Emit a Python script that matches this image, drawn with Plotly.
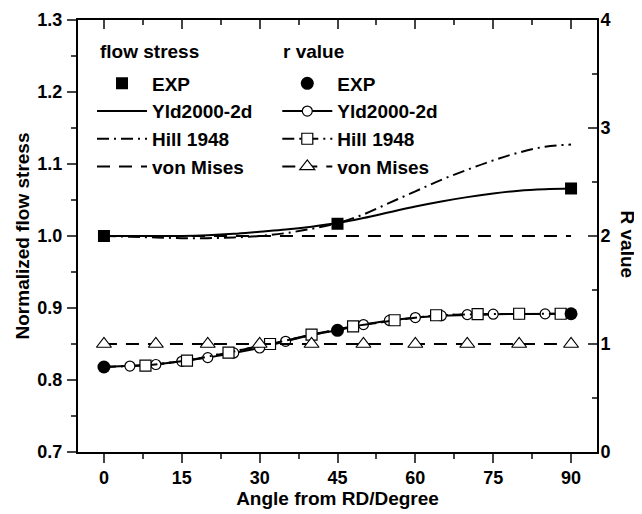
import plotly.graph_objects as go

# ---------------- data ----------------
angle_curve = [0, 5, 10, 15, 20, 25, 30, 35, 40, 45, 50, 55, 60, 65, 70, 75, 80, 85, 90]
fs_yld = [1.000, 1.000, 1.000, 1.000, 1.001, 1.003, 1.006, 1.009, 1.013, 1.018, 1.025, 1.033,
          1.041, 1.048, 1.054, 1.059, 1.063, 1.065, 1.066]
fs_hill = [1.000, 0.999, 0.998, 0.997, 0.997, 0.998, 1.000, 1.004, 1.010, 1.018, 1.030, 1.046,
           1.062, 1.078, 1.092, 1.105, 1.116, 1.124, 1.127]
fs_vm = [1.0] * len(angle_curve)

angle_exp = [0, 45, 90]
fs_exp = [1.000, 1.017, 1.066]
r_exp = [0.787, 1.127, 1.280]

angle_r_yld = [0, 5, 10, 15, 20, 25, 30, 35, 40, 45, 50, 55, 60, 65, 70, 75, 80, 85, 90]
r_yld = [0.787, 0.796, 0.810, 0.840, 0.874, 0.917, 0.963, 1.025, 1.085, 1.127, 1.180, 1.218,
         1.245, 1.262, 1.272, 1.276, 1.278, 1.279, 1.280]

angle_r_hill = [0, 8, 16, 24, 32, 40, 48, 56, 64, 72, 80, 88, 90]
r_hill = [0.787, 0.800, 0.846, 0.920, 1.000, 1.087, 1.164, 1.220, 1.266, 1.276, 1.280, 1.280, 1.280]
angle_r_hill_mk = angle_r_hill[1:-1]
r_hill_mk = r_hill[1:-1]

angle_r_vm = [0, 10, 20, 30, 40, 50, 60, 70, 80, 90]
r_vm = [1.0] * len(angle_r_vm)

x_ticks = [0, 15, 30, 45, 60, 75, 90]
y_ticks = [0.7, 0.8, 0.9, 1.0, 1.1, 1.2, 1.3]
y_tick_text = ["0.7", "0.8", "0.9", "1.0", "1.1", "1.2", "1.3"]
y2_ticks = [0, 1, 2, 3, 4]

legend_header_fs = "flow stress"
legend_header_r = "r value"

# ---------------- style ----------------
FONT = "Liberation Sans, Arial, sans-serif"
LW = 2
DASH = "13px,9px"
DASHDOT = "12px,5px,2px,5px"

fig = go.Figure()

# flow stress curves (left axis)
fig.add_trace(go.Scatter(x=angle_curve, y=fs_yld, mode="lines", name="Yld2000-2d",
                         line=dict(color="black", width=LW, shape="spline"),
                         legend="legend", legendrank=2))
fig.add_trace(go.Scatter(x=angle_curve, y=fs_hill, mode="lines", name="Hill 1948",
                         line=dict(color="black", width=LW, dash=DASHDOT, shape="spline"),
                         legend="legend", legendrank=3))
fig.add_trace(go.Scatter(x=angle_curve, y=fs_vm, mode="lines", name="von Mises",
                         line=dict(color="black", width=LW, dash=DASH),
                         legend="legend", legendrank=4, xaxis="x2"))

# r value curves (right axis)
fig.add_trace(go.Scatter(x=angle_r_hill, y=r_hill, mode="lines", yaxis="y2",
                         line=dict(color="black", width=LW, dash=DASHDOT),
                         showlegend=False, hoverinfo="skip"))
fig.add_trace(go.Scatter(x=angle_r_yld, y=r_yld, mode="lines+markers", name="Yld2000-2d",
                         yaxis="y2",
                         line=dict(color="black", width=LW),
                         marker=dict(symbol="circle", size=10, color="white",
                                     line=dict(color="black", width=1.2)),
                         legend="legend2", legendrank=2))
fig.add_trace(go.Scatter(x=angle_r_hill_mk, y=r_hill_mk, mode="lines+markers", name="Hill 1948",
                         yaxis="y2",
                         line=dict(color="black", width=LW, dash=DASHDOT),
                         marker=dict(symbol="square", size=11, color="white",
                                     line=dict(color="black", width=1.2)),
                         legend="legend2", legendrank=3))
fig.add_trace(go.Scatter(x=angle_r_vm, y=r_vm, mode="lines+markers", name="von Mises",
                         yaxis="y2",
                         line=dict(color="black", width=LW, dash=DASH),
                         marker=dict(symbol="triangle-up", size=13, color="white",
                                     line=dict(color="black", width=1.2)),
                         legend="legend2", legendrank=4))

# experimental points
fig.add_trace(go.Scatter(x=angle_exp, y=fs_exp, mode="markers", name="EXP",
                         marker=dict(symbol="square", size=12, color="black"),
                         legend="legend", legendrank=1))
fig.add_trace(go.Scatter(x=angle_exp, y=r_exp, mode="markers", name="EXP", yaxis="y2",
                         marker=dict(symbol="circle", size=13, color="black"),
                         legend="legend2", legendrank=1))

tickfont = dict(family=FONT, size=18, color="black", weight="bold")
titlefont = dict(family=FONT, size=19, color="black", weight="bold")
legfont = dict(family=FONT, size=19, color="black", weight="bold")

# the page body adds an 8px offset, so the figure is 8px smaller on each side
fig.update_layout(
    width=634, height=506,
    margin=dict(l=70, r=45, t=12, b=62, autoexpand=False),
    paper_bgcolor="white", plot_bgcolor="white",
    xaxis=dict(range=[-5, 95], tickvals=x_ticks, ticks="outside", ticklen=9, tickwidth=2,
               showline=True, linewidth=2, linecolor="black", showgrid=False, zeroline=False,
               tickfont=tickfont, ticklabelstandoff=-1,
               minor=dict(dtick=7.5, tick0=0, ticks="outside", ticklen=5, tickwidth=2),
               title=dict(text="Angle from RD/Degree", font=titlefont, standoff=0)),
    xaxis2=dict(range=[-5, 95], matches="x", overlaying="x", side="top", anchor="y",
                tickvals=x_ticks, ticks="inside", ticklen=9, tickwidth=2,
                showticklabels=False, showline=True, linewidth=2, linecolor="black",
                showgrid=False, zeroline=False,
                minor=dict(dtick=7.5, tick0=0, ticks="inside", ticklen=5, tickwidth=2)),
    yaxis=dict(range=[0.7, 1.3], tickvals=y_ticks, ticktext=y_tick_text, ticks="outside",
               ticklen=9, tickwidth=2, showline=True, linewidth=2, linecolor="black",
               showgrid=False, zeroline=False, tickfont=tickfont, ticklabelstandoff=1,
               minor=dict(dtick=0.05, tick0=0.7, ticks="outside", ticklen=5, tickwidth=2),
               title=dict(text="Normalized flow stress", font=titlefont, standoff=3)),
    yaxis2=dict(range=[0, 4], tickvals=y2_ticks, overlaying="y", side="right", anchor="x",
                ticks="inside", ticklen=9, tickwidth=2, showline=True, linewidth=2,
                linecolor="black", showgrid=False, zeroline=False, tickfont=tickfont,
                ticklabelstandoff=-2,
                minor=dict(dtick=0.5, tick0=0, ticks="inside", ticklen=5, tickwidth=2)),
    legend=dict(x=0.027, y=0.897, xanchor="left", yanchor="top", bgcolor="rgba(0,0,0,0)",
                borderwidth=0, font=legfont, itemwidth=50, tracegroupgap=0),
    legend2=dict(x=0.384, y=0.897, xanchor="left", yanchor="top", bgcolor="rgba(0,0,0,0)",
                 borderwidth=0, font=legfont, itemwidth=50, tracegroupgap=0),
    annotations=[
        dict(text="R value", textangle=90, xref="paper", yref="paper",
             x=1.058, y=0.48, showarrow=False, font=titlefont,
             xanchor="center", yanchor="middle"),
        dict(text=legend_header_fs, xref="paper", yref="paper", x=0.0385, y=0.926,
             showarrow=False, font=legfont, xanchor="left", yanchor="middle"),
        dict(text=legend_header_r, xref="paper", yref="paper", x=0.391, y=0.926,
             showarrow=False, font=legfont, xanchor="left", yanchor="middle"),
    ],
    showlegend=True,
)

fig.write_html("out.html")
